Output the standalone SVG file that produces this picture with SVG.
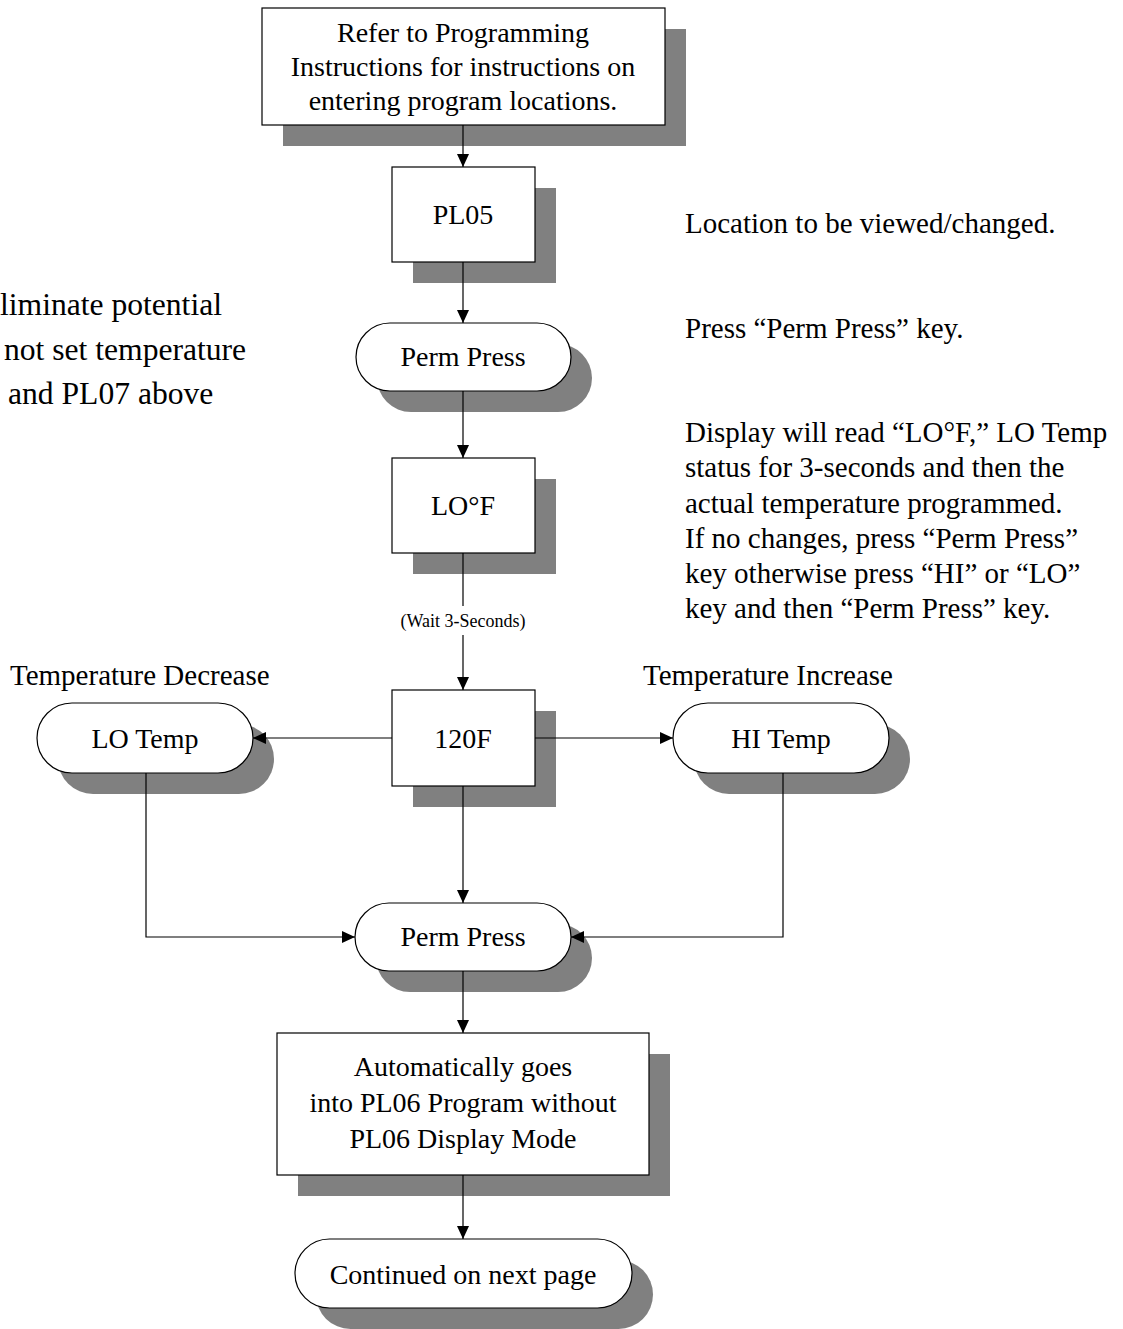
<svg xmlns="http://www.w3.org/2000/svg" width="1123" height="1329" viewBox="0 0 1123 1329">
<style>
.sh{fill:#808080;stroke:none}
.bx{fill:#fff;stroke:#000;stroke-width:1.2}
.t{font-family:"Liberation Serif","Times New Roman",serif;font-size:28px;fill:#000;text-anchor:middle}
.a{font-family:"Liberation Serif","Times New Roman",serif;font-size:29px;fill:#000}
.l{font-family:"Liberation Serif","Times New Roman",serif;font-size:31.6px;fill:#000}
.s{font-family:"Liberation Serif","Times New Roman",serif;font-size:18px;fill:#000;text-anchor:middle}
.c{fill:none;stroke:#000;stroke-width:1.2}
</style>
<defs>
<marker id="ar" viewBox="0 0 13 12" refX="13" refY="6" markerWidth="13" markerHeight="12" markerUnits="userSpaceOnUse" orient="auto">
<path d="M0,0 L13,6 L0,12 z" fill="#000"/>
</marker>
</defs>
<rect width="1123" height="1329" fill="#fff"/>

<g id="note-left">
<text class="l" x="0" y="315">liminate potential</text>
<text class="l" x="4" y="360">not set temperature</text>
<text class="l" x="8" y="404">and PL07 above</text>
</g>
<g id="note-location"><text class="a" x="685" y="233">Location to be viewed/changed.</text></g>
<g id="note-press"><text class="a" x="685" y="338">Press “Perm Press” key.</text></g>
<g id="note-display">
<text class="a" x="685" y="442">Display will read “LO°F,” LO Temp</text>
<text class="a" x="685" y="477">status for 3-seconds and then the</text>
<text class="a" x="685" y="513">actual temperature programmed.</text>
<text class="a" x="685" y="548">If no changes, press “Perm Press”</text>
<text class="a" x="685" y="583">key otherwise press “HI” or “LO”</text>
<text class="a" x="685" y="618">key and then “Perm Press” key.</text>
</g>
<g id="label-decrease"><text class="a" x="10" y="685">Temperature Decrease</text></g>
<g id="label-increase"><text class="a" x="643" y="685">Temperature Increase</text></g>

<g id="n-refer">
<rect class="sh" x="283" y="29" width="403" height="117"/>
<rect class="bx" x="262" y="8" width="403" height="117"/>
<text class="t" x="463" y="42">Refer to Programming</text>
<text class="t" x="463" y="76">Instructions for instructions on</text>
<text class="t" x="463" y="110">entering program locations.</text>
</g>
<g id="n-pl05">
<rect class="sh" x="413" y="188" width="143" height="95"/>
<rect class="bx" x="392" y="167" width="143" height="95"/>
<text class="t" x="463" y="224">PL05</text>
</g>
<g id="n-perm1">
<rect class="sh" x="377" y="344" width="215" height="68" rx="34"/>
<rect class="bx" x="356" y="323" width="215" height="68" rx="34"/>
<text class="t" x="463" y="366">Perm Press</text>
</g>
<g id="n-lof">
<rect class="sh" x="413" y="479" width="143" height="95"/>
<rect class="bx" x="392" y="458" width="143" height="95"/>
<text class="t" x="463" y="515">LO°F</text>
</g>
<g id="n-120f">
<rect class="sh" x="413" y="711" width="143" height="96"/>
<rect class="bx" x="392" y="690" width="143" height="96"/>
<text class="t" x="463" y="748">120F</text>
</g>
<g id="n-lotemp">
<rect class="sh" x="58" y="724" width="216" height="70" rx="35"/>
<rect class="bx" x="37" y="703" width="216" height="70" rx="35"/>
<text class="t" x="145" y="748">LO Temp</text>
</g>
<g id="n-hitemp">
<rect class="sh" x="694" y="724" width="216" height="70" rx="35"/>
<rect class="bx" x="673" y="703" width="216" height="70" rx="35"/>
<text class="t" x="781" y="748">HI Temp</text>
</g>
<g id="n-perm2">
<rect class="sh" x="376" y="924" width="216" height="68" rx="34"/>
<rect class="bx" x="355" y="903" width="216" height="68" rx="34"/>
<text class="t" x="463" y="946">Perm Press</text>
</g>
<g id="n-auto">
<rect class="sh" x="298" y="1054" width="372" height="142"/>
<rect class="bx" x="277" y="1033" width="372" height="142"/>
<text class="t" x="463" y="1076">Automatically goes</text>
<text class="t" x="463" y="1112">into PL06 Program without</text>
<text class="t" x="463" y="1148">PL06 Display Mode</text>
</g>
<g id="n-continued">
<rect class="sh" x="316" y="1260" width="337" height="69" rx="34.5"/>
<rect class="bx" x="295" y="1239" width="337" height="69" rx="34.5"/>
<text class="t" x="463" y="1284">Continued on next page</text>
</g>

<g id="connectors">
<path class="c" d="M463,125 V167" marker-end="url(#ar)"/>
<path class="c" d="M463,262 V323" marker-end="url(#ar)"/>
<path class="c" d="M463,391 V458" marker-end="url(#ar)"/>
<path class="c" d="M463,553 V606"/>
<text class="s" x="463" y="627">(Wait 3-Seconds)</text>
<path class="c" d="M463,635 V690" marker-end="url(#ar)"/>
<path class="c" d="M392,738 H253" marker-end="url(#ar)"/>
<path class="c" d="M535,738 H673" marker-end="url(#ar)"/>
<path class="c" d="M463,786 V903" marker-end="url(#ar)"/>
<path class="c" d="M146,773 V937 H355" marker-end="url(#ar)"/>
<path class="c" d="M783,773 V937 H571" marker-end="url(#ar)"/>
<path class="c" d="M463,971 V1033" marker-end="url(#ar)"/>
<path class="c" d="M463,1175 V1239" marker-end="url(#ar)"/>
</g>
</svg>
